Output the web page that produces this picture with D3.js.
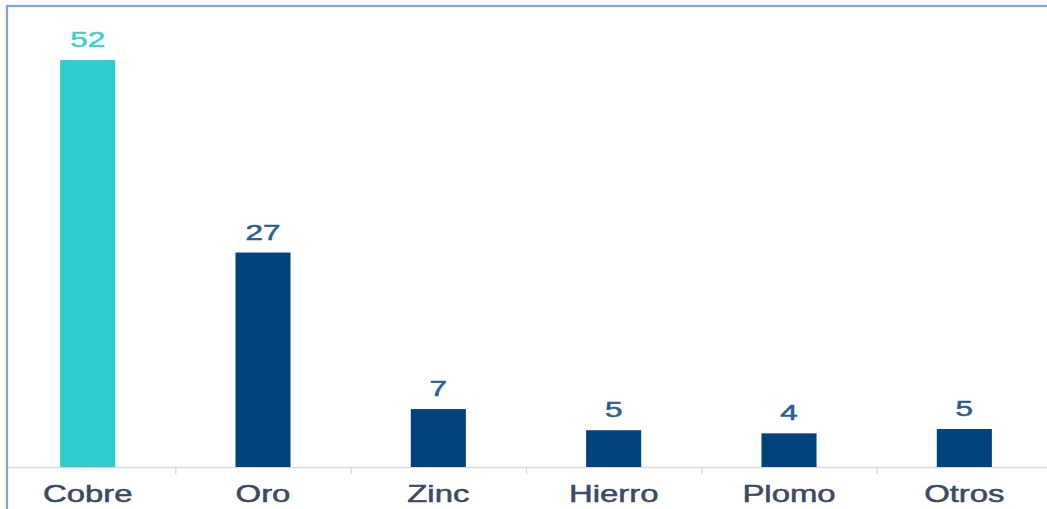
<!DOCTYPE html>
<html><head><meta charset="utf-8">
<script src="https://cdn.jsdelivr.net/npm/d3@7/dist/d3.min.js"></script>
<style>html,body{margin:0;padding:0;background:#fff;overflow:hidden}</style>
</head><body>
<svg id="c" width="1047" height="509"></svg>
<script>
const categories = ["Cobre", "Oro", "Zinc", "Hierro", "Plomo", "Otros"];
const values = [52, 27.4, 7.4, 4.7, 4.3, 4.85];
const barColors = ["#2ECDCB", "#00427E", "#00427E", "#00427E", "#00427E", "#00427E"];
const labelColors = ["#3ECFCF", "#2A5D91", "#2A5D91", "#2A5D91", "#2A5D91", "#2A5D91"];

const svg = d3.select("#c");
const W = 1047, H = 509;
const baseY = 467;
const sx = 1.43;

// frame
svg.append("rect").attr("x", 7).attr("y", 6).attr("width", W + 20).attr("height", H + 20)
  .attr("fill", "none").attr("stroke", "#7FA4DB").attr("stroke-width", 2.2);

const x = d3.scaleBand().domain(categories).range([0, 1052])
  .paddingInner(0.686).paddingOuter(0.343);
const y = d3.scaleLinear().domain([0, 52]).range([baseY, 60]);

// axis
const tickScale = d3.scaleLinear().domain([0, categories.length]).range([0, 1052]);
const axis = d3.axisBottom(tickScale)
  .tickValues(d3.range(1, categories.length)).tickSize(7).tickFormat("");
const gA = svg.append("g").attr("transform", `translate(0,${baseY})`).call(axis);
gA.select(".domain").remove();
gA.selectAll(".tick line").attr("stroke", "#D9D9D9").attr("stroke-width", 1.3);
svg.append("line").attr("x1", 8).attr("x2", W).attr("y1", baseY + 0.5).attr("y2", baseY + 0.5)
  .attr("stroke", "#D9D9D9").attr("stroke-width", 1.6);

// bars
svg.selectAll("rect.bar").data(categories).enter().append("rect").attr("class", "bar")
  .attr("x", d => x(d)).attr("width", x.bandwidth())
  .attr("y", (d, i) => y(values[i])).attr("height", (d, i) => baseY - y(values[i]))
  .attr("fill", (d, i) => barColors[i]);

// value labels
const fmt = d3.format(".0f");
svg.selectAll("text.val").data(categories).enter().append("text").attr("class", "val")
  .attr("transform", (d, i) => `translate(${x(d) + x.bandwidth() / 2},${y(values[i]) - 13}) scale(${sx},1)`)
  .attr("text-anchor", "middle").attr("font-family", "Liberation Sans, Arial, sans-serif")
  .attr("font-size", 22).attr("fill", (d, i) => labelColors[i])
  .attr("stroke", (d, i) => labelColors[i]).attr("stroke-width", 0.5)
  .text((d, i) => fmt(values[i]));

// category labels
svg.selectAll("text.cat").data(categories).enter().append("text").attr("class", "cat")
  .attr("transform", d => `translate(${x(d) + x.bandwidth() / 2},${502}) scale(${sx},1)`)
  .attr("text-anchor", "middle").attr("font-family", "Liberation Sans, Arial, sans-serif")
  .attr("font-size", 23).attr("fill", "#3B4A63")
  .attr("stroke", "#3B4A63").attr("stroke-width", 0.5)
  .text(d => d);
</script>
</body></html>
